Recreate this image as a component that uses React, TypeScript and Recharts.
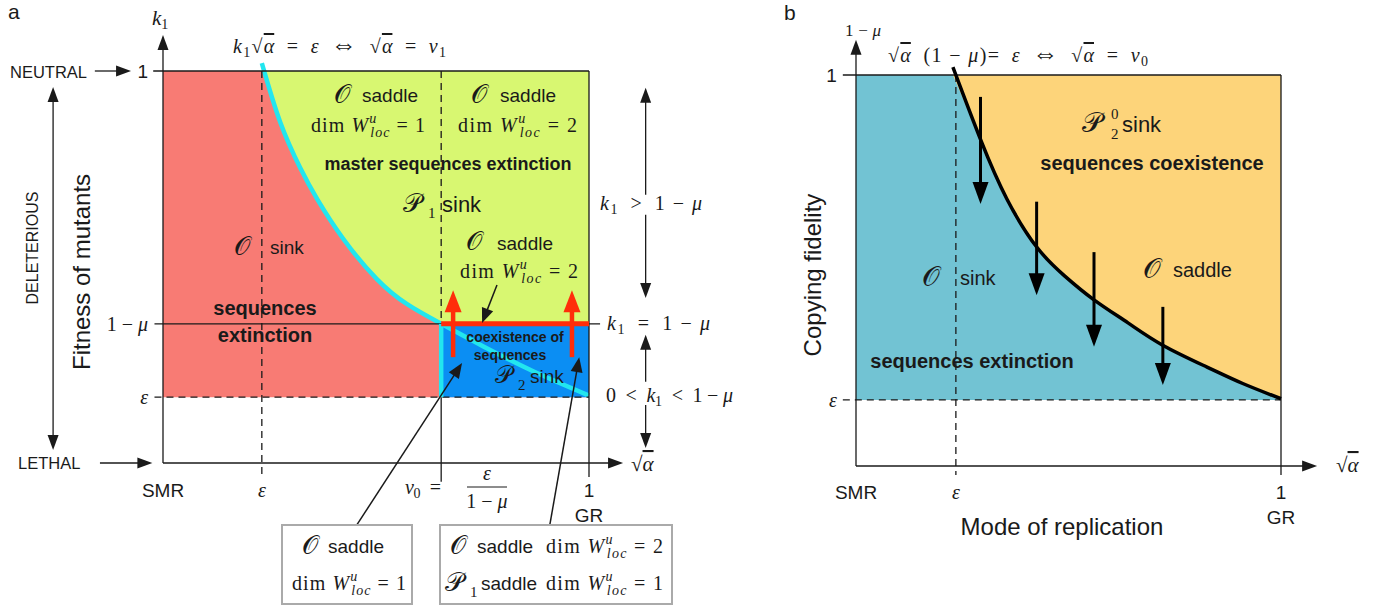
import React from "react";
import { ComposedChart, Area, Line, XAxis, YAxis, ReferenceLine, ReferenceDot } from "recharts";

// ---- panel a: fitness of mutants (k1) vs mode of replication (sqrt alpha)
const EPS_X = 0.232;
const EPS_Y = 0.168;
const ONE_MINUS_MU = 0.355;
const NU0 = 0.653;

// k1 * sqrt(alpha) = eps boundary
const sqrtAlphaA = [0.232, 0.275, 0.322, 0.362, 0.423, 0.502, 0.573, 0.653, 0.751, 0.869, 1.0];
const k1Boundary = [1.02, 0.87, 0.753, 0.673, 0.572, 0.469, 0.405, 0.355, 0.298, 0.234, 0.172];

const redArrowX = [0.681, 0.96];
const RED_ARROW_FROM = 0.27;
const RED_ARROW_TO = 0.441;

const xTicksA = [0, EPS_X, 1];
const xTickTextA = ["SMR", "ε", "1"];
const xTickSubA = ["", "", "GR"];
const yTicksA = [EPS_Y, ONE_MINUS_MU, 1];
const yTickTextA = ["ε", "1 − μ", "1"];

// ---- panel b: copying fidelity (1 - mu) vs sqrt alpha
const EPS_BX = 0.235;
const EPS_BY = 0.169;
const sqrtAlphaB = [0.228, 0.2934, 0.355, 0.4252, 0.49, 0.56, 0.64, 0.7216, 0.826, 0.91, 1.0];
const fidelityBoundary = [1.02, 0.834, 0.683, 0.56, 0.487, 0.425, 0.366, 0.309, 0.253, 0.211, 0.172];

const flowX = [0.293, 0.425, 0.56, 0.722];
const flowFrom = [0.944, 0.676, 0.547, 0.407];
const flowTo = [0.67, 0.437, 0.305, 0.207];

const xTicksB = [0, EPS_BX, 1];
const xTickTextB = ["SMR", "ε", "1"];
const xTickSubB = ["", "", "GR"];
const yTicksB = [EPS_BY, 1];
const yTickTextB = ["ε", "1"];

// ---- look
const SANS = "'Liberation Sans', Arial, Helvetica, sans-serif";
const SERIF = "'Liberation Serif', 'DejaVu Serif', 'Times New Roman', serif";
const CAL = "'DejaVu Serif', 'DejaVu Sans', serif";
const INK = "#1a1a1a";
const RED = "#f87b74";
const GREEN = "#d8f771";
const BLUE = "#0b8ef3";
const CYAN = "#22e6ef";
const HOT = "#ff2d0a";
const TEAL = "#72c3d3";
const ORANGE = "#fdd47a";

// plot domains, padded so that every annotation stays inside the plot area
const XD_A: [number, number] = [-0.38, 1.25];
const YD_A: [number, number] = [-0.15, 1.15];
const XD_B: [number, number] = [-0.36, 1.25];
const YD_B: [number, number] = [-0.15, 1.15];

function frame(x0: number, xs: number, y0: number, ys: number, xd: number[], yd: number[], w: number, h: number) {
  return {
    left: x0 + xd[0] * xs,
    right: w - (x0 + xd[1] * xs),
    top: y0 - yd[1] * ys,
    bottom: h - (y0 - yd[0] * ys),
  };
}

function arrowShape(color: string, w: number, hl: number, hw: number, both = false) {
  return (p: any) => {
    const { x1, y1, x2, y2 } = p;
    const len = Math.hypot(x2 - x1, y2 - y1) || 1;
    const ux = (x2 - x1) / len;
    const uy = (y2 - y1) / len;
    const head = (tx: number, ty: number, sx: number, sy: number) => {
      const bx = tx - sx * hl;
      const by = ty - sy * hl;
      return `${tx},${ty} ${bx - (sy * hw) / 2},${by + (sx * hw) / 2} ${bx + (sy * hw) / 2},${by - (sx * hw) / 2}`;
    };
    return (
      <g>
        <line
          x1={both ? x1 + ux * hl * 0.8 : x1}
          y1={both ? y1 + uy * hl * 0.8 : y1}
          x2={x2 - ux * hl * 0.8}
          y2={y2 - uy * hl * 0.8}
          stroke={color}
          strokeWidth={w}
        />
        <polygon points={head(x2, y2, ux, uy)} fill={color} />
        {both && <polygon points={head(x1, y1, -ux, -uy)} fill={color} />}
      </g>
    );
  };
}

const seg = (x1: number, y1: number, x2: number, y2: number) => [
  { x: x1, y: y1 },
  { x: x2, y: y2 },
];

const isMath = (s: string) => /[εμν]/.test(s);

function tickShape(text: string, sub: string, anchor: "middle" | "end", dy: number) {
  return (p: any) => (
    <g>
      <text
        x={p.cx}
        y={p.cy + dy}
        textAnchor={anchor}
        fontFamily={isMath(text) ? SERIF : SANS}
        fontStyle={text === "ε" ? "italic" : "normal"}
        fontSize={isMath(text) ? 20 : 19}
        fill={INK}
      >
        {text === "1 − μ" ? (
          <>
            1 − <tspan fontStyle="italic">μ</tspan>
          </>
        ) : (
          text
        )}
      </text>
      {sub && (
        <text x={p.cx} y={p.cy + dy + 25} textAnchor={anchor} fontFamily={SANS} fontSize={19} fill={INK}>
          {sub}
        </text>
      )}
    </g>
  );
}

const noAnim = { isAnimationActive: false, dot: false, activeDot: false } as const;

function PanelA() {
  const margin = frame(163, 426, 463, 392, XD_A, YD_A, 700, 614);
  const curve = sqrtAlphaA.map((x, i) => ({ x, k: k1Boundary[i] }));
  const red = [
    { x: 0, r: [EPS_Y, 1] },
    { x: 1, r: [EPS_Y, 1] },
  ];
  const greenCurve = sqrtAlphaA
    .map((x, i) => ({ x, r: [Math.min(k1Boundary[i], 1), 1] }))
    .filter((d) => d.x <= NU0);
  const greenFlat = [
    { x: NU0, r: [ONE_MINUS_MU, 1] },
    { x: 1, r: [ONE_MINUS_MU, 1] },
  ];
  const blue = [
    { x: NU0, r: [EPS_Y, ONE_MINUS_MU] },
    { x: 1, r: [EPS_Y, ONE_MINUS_MU] },
  ];
  const thin = { stroke: INK, strokeWidth: 1.3, ifOverflow: "visible" as const };
  const dash = { ...thin, strokeDasharray: "7 5" };
  const blk = arrowShape(INK, 1.3, 15, 11);
  return (
    <ComposedChart width={700} height={614} margin={margin}>
      <XAxis type="number" dataKey="x" domain={XD_A} hide allowDataOverflow />
      <YAxis type="number" domain={YD_A} hide allowDataOverflow />
      <Area data={red} dataKey="r" type="linear" stroke="none" fill={RED} fillOpacity={1} {...noAnim} />
      <Area data={greenCurve} dataKey="r" type="natural" stroke="none" fill={GREEN} fillOpacity={1} {...noAnim} />
      <Area data={greenFlat} dataKey="r" type="linear" stroke="none" fill={GREEN} fillOpacity={1} {...noAnim} />
      <Area data={blue} dataKey="r" type="linear" stroke="none" fill={BLUE} fillOpacity={1} {...noAnim} />
      <Line data={curve} dataKey="k" type="natural" stroke={CYAN} strokeWidth={4.5} {...noAnim} />

      <ReferenceLine segment={seg(-0.023, 1, 1, 1)} {...thin} />
      <ReferenceLine segment={seg(1, 1, 1, -0.036)} {...thin} />
      <ReferenceLine segment={seg(-0.02, ONE_MINUS_MU, 1.026, ONE_MINUS_MU)} {...thin} />
      <ReferenceLine segment={seg(-0.02, EPS_Y, 1, EPS_Y)} {...dash} />
      <ReferenceLine segment={seg(EPS_X, 1, EPS_X, -0.03)} {...dash} />
      <ReferenceLine segment={seg(NU0, 1, NU0, ONE_MINUS_MU)} {...dash} />
      <ReferenceLine segment={seg(NU0, EPS_Y, NU0, -0.048)} {...thin} />
      <ReferenceLine segment={seg(0, 0, 1.08, 0)} {...thin} shape={blk} />
      <ReferenceLine segment={seg(0, 0, 0, 1.092)} {...thin} shape={blk} />

      <ReferenceLine segment={seg(NU0, EPS_Y, NU0, ONE_MINUS_MU)} stroke={CYAN} strokeWidth={4.5} ifOverflow="visible" />
      <ReferenceLine segment={seg(NU0, ONE_MINUS_MU, 1, ONE_MINUS_MU)} stroke={HOT} strokeWidth={5} ifOverflow="visible" />
      {redArrowX.map((x) => (
        <ReferenceLine
          key={x}
          segment={seg(x, RED_ARROW_FROM, x, RED_ARROW_TO)}
          ifOverflow="visible"
          shape={arrowShape(HOT, 4.5, 22, 17)}
        />
      ))}

      {/* annotation arrows */}
      <ReferenceLine segment={seg(0.784, 0.454, 0.749, 0.357)} ifOverflow="visible" shape={arrowShape(INK, 1.5, 15, 12)} />
      <ReferenceLine segment={seg(0.455, -0.158, 0.702, 0.255)} ifOverflow="visible" shape={arrowShape(INK, 1.5, 15, 12)} />
      <ReferenceLine segment={seg(0.908, -0.158, 0.977, 0.27)} ifOverflow="visible" shape={arrowShape(INK, 1.5, 15, 12)} />
      <ReferenceLine segment={seg(-0.16, 1, -0.075, 1)} ifOverflow="visible" shape={blk} />
      <ReferenceLine segment={seg(-0.148, 0, -0.025, 0)} ifOverflow="visible" shape={blk} />
      <ReferenceLine segment={seg(-0.258, 0.959, -0.258, 0.033)} ifOverflow="visible" shape={arrowShape(INK, 1.3, 15, 11, true)} />
      <ReferenceLine segment={seg(1.133, 0.684, 1.133, 0.957)} ifOverflow="visible" shape={blk} />
      <ReferenceLine segment={seg(1.133, 0.633, 1.133, 0.421)} ifOverflow="visible" shape={blk} />
      <ReferenceLine segment={seg(1.133, 0.207, 1.133, 0.327)} ifOverflow="visible" shape={blk} />
      <ReferenceLine segment={seg(1.133, 0.148, 1.133, 0.038)} ifOverflow="visible" shape={blk} />

      {xTicksA.map((v, i) => (
        <ReferenceDot key={"x" + i} x={v} y={0} r={0} ifOverflow="visible" shape={tickShape(xTickTextA[i], xTickSubA[i], "middle", 34)} />
      ))}
      {yTicksA.map((v, i) => (
        <ReferenceDot key={"y" + i} x={-0.035} y={v} r={0} ifOverflow="visible" shape={tickShape(yTickTextA[i], "", "end", 7)} />
      ))}
    </ComposedChart>
  );
}

function PanelB() {
  const margin = frame(156, 425, 466, 391, XD_B, YD_B, 695, 614);
  const curve = sqrtAlphaB.map((x, i) => ({ x, f: fidelityBoundary[i] }));
  const teal = [
    { x: 0, r: [EPS_BY, 1] },
    { x: 1, r: [EPS_BY, 1] },
  ];
  const orange = sqrtAlphaB.map((x, i) => ({ x, r: [Math.min(fidelityBoundary[i], 1), 1] }));
  const thin = { stroke: INK, strokeWidth: 1.3, ifOverflow: "visible" as const };
  const dash = { ...thin, strokeDasharray: "7 5" };
  const blk = arrowShape(INK, 1.3, 15, 11);
  return (
    <ComposedChart width={695} height={614} margin={margin}>
      <XAxis type="number" dataKey="x" domain={XD_B} hide allowDataOverflow />
      <YAxis type="number" domain={YD_B} hide allowDataOverflow />
      <Area data={teal} dataKey="r" type="linear" stroke="none" fill={TEAL} fillOpacity={1} {...noAnim} />
      <Area data={orange} dataKey="r" type="natural" stroke="none" fill={ORANGE} fillOpacity={1} {...noAnim} />

      <ReferenceLine segment={seg(-0.031, 1, 1, 1)} {...thin} />
      <ReferenceLine segment={seg(1, 1, 1, -0.023)} {...thin} />
      <ReferenceLine segment={seg(-0.031, EPS_BY, 1, EPS_BY)} {...dash} />
      <ReferenceLine segment={seg(EPS_BX, 1, EPS_BX, -0.023)} {...dash} />
      <ReferenceLine segment={seg(0, 0, 1.085, 0)} {...thin} shape={blk} />
      <ReferenceLine segment={seg(0, 0, 0, 1.09)} {...thin} shape={blk} />

      <Line data={curve} dataKey="f" type="natural" stroke="#000" strokeWidth={3.5} {...noAnim} />
      {flowX.map((x, i) => (
        <ReferenceLine
          key={x}
          segment={seg(x, flowFrom[i], x, flowTo[i])}
          ifOverflow="visible"
          shape={arrowShape("#000", 3, 22, 16)}
        />
      ))}

      {xTicksB.map((v, i) => (
        <ReferenceDot key={"x" + i} x={v} y={0} r={0} ifOverflow="visible" shape={tickShape(xTickTextB[i], xTickSubB[i], "middle", 33)} />
      ))}
      {yTicksB.map((v, i) => (
        <ReferenceDot key={"y" + i} x={-0.045} y={v} r={0} ifOverflow="visible" shape={tickShape(yTickTextB[i], "", "end", 7)} />
      ))}
    </ComposedChart>
  );
}

function DimW({ x, y, n, size = 20, len = 114 }: { x: number; y: number; n: string; size?: number; len?: number }) {
  const s = size * 0.7;
  return (
    <text x={x} y={y} fontFamily={SERIF} fontSize={size} fill={INK} textLength={len} lengthAdjust="spacing">
      dim <tspan fontStyle="italic">W</tspan>
      <tspan fontStyle="italic" fontSize={s} dy={-9}>u</tspan>
      <tspan fontStyle="italic" fontSize={s} dx={-7} dy={14}>loc</tspan>
      <tspan dy={-5}>{" = " + n}</tspan>
    </text>
  );
}

function Cal({ x, y, ch, size = 26 }: { x: number; y: number; ch: string; size?: number }) {
  return (
    <text x={x} y={y} fontFamily={CAL} fontSize={size} fill={INK}>
      {ch}
    </text>
  );
}

function Sans({ x, y, size = 19, bold = false, anchor = "start", children }: any) {
  return (
    <text x={x} y={y} fontFamily={SANS} fontSize={size} fontWeight={bold ? 700 : 400} textAnchor={anchor} fill={INK}>
      {children}
    </text>
  );
}

const ov = { textDecoration: "overline" };
const SP = "\u2002";

function Overlay() {
  return (
    <svg width={1395} height={614} style={{ position: "absolute", left: 0, top: 0, pointerEvents: "none" }}>
      <Sans x={8} y={19} size={21}>a</Sans>
      <Sans x={784} y={20} size={21}>b</Sans>

      {/* ---- panel a frame texts */}
      <text x={152} y={25} fontFamily={SERIF} fontSize={21} fill={INK}>
        <tspan fontStyle="italic">k</tspan>
        <tspan fontSize={14} dy={4}>1</tspan>
      </text>
      <text x={233} y={53} fontFamily={SERIF} fontSize={20} fill={INK} textLength={213} lengthAdjust="spacing">
        <tspan fontStyle="italic">k</tspan>
        <tspan fontSize={14} dy={4}>1</tspan>
        <tspan dy={-4}>√</tspan>
        <tspan fontStyle="italic" style={ov}>α</tspan>
        <tspan>{SP + "=" + SP}</tspan>
        <tspan fontStyle="italic">ε</tspan>
        <tspan>{SP}</tspan>
        <tspan fontSize={26}>⇔</tspan>
        <tspan>{SP + "√"}</tspan>
        <tspan fontStyle="italic" style={ov}>α</tspan>
        <tspan>{SP + "=" + SP}</tspan>
        <tspan fontStyle="italic">ν</tspan>
        <tspan fontSize={14} dy={4}>1</tspan>
      </text>
      <Sans x={10} y={78} size={16.5}>NEUTRAL</Sans>
      <Sans x={18} y={469} size={16.5}>LETHAL</Sans>
      <text transform="translate(38,248) rotate(-90)" textAnchor="middle" fontFamily={SANS} fontSize={16} fill={INK}>
        DELETERIOUS
      </text>
      <text transform="translate(90,272) rotate(-90)" textAnchor="middle" fontFamily={SANS} fontSize={24} fill={INK}>
        Fitness of mutants
      </text>
      <text x={631} y={471} fontFamily={SERIF} fontSize={21} fill={INK}>
        √<tspan fontStyle="italic" style={ov}>α</tspan>
      </text>
      <text x={405} y={494} fontFamily={SERIF} fontSize={20} fill={INK} textLength={36} lengthAdjust="spacing">
        <tspan fontStyle="italic">ν</tspan>
        <tspan fontSize={14} dy={4}>0</tspan>
        <tspan dy={-4}>{SP + "="}</tspan>
      </text>
      <text x={487} y={480} textAnchor="middle" fontFamily={SERIF} fontStyle="italic" fontSize={20} fill={INK}>ε</text>
      <line x1={467} x2={507} y1={487} y2={487} stroke={INK} strokeWidth={1} />
      <text x={487} y={508} textAnchor="middle" fontFamily={SERIF} fontSize={20} fill={INK}>
        1 − <tspan fontStyle="italic">μ</tspan>
      </text>
      <text x={600} y={210} fontFamily={SERIF} fontSize={20} fill={INK} textLength={102} lengthAdjust="spacing">
        <tspan fontStyle="italic">k</tspan>
        <tspan fontSize={14} dy={4}>1</tspan>
        <tspan dy={-4}>{SP + ">" + SP + "1 − "}</tspan>
        <tspan fontStyle="italic">μ</tspan>
      </text>
      <text x={607} y={330} fontFamily={SERIF} fontSize={20} fill={INK} textLength={103} lengthAdjust="spacing">
        <tspan fontStyle="italic">k</tspan>
        <tspan fontSize={14} dy={4}>1</tspan>
        <tspan dy={-4}>{SP + "=" + SP + "1 − "}</tspan>
        <tspan fontStyle="italic">μ</tspan>
      </text>
      <text x={606} y={402} fontFamily={SERIF} fontSize={20} fill={INK} textLength={127} lengthAdjust="spacing">
        {"0" + SP + "<" + SP}
        <tspan fontStyle="italic">k</tspan>
        <tspan fontSize={14} dy={4}>1</tspan>
        <tspan dy={-4}>{SP + "<" + SP + "1 − "}</tspan>
        <tspan fontStyle="italic">μ</tspan>
      </text>

      {/* ---- panel a regions */}
      <Cal x={334} y={103} ch="𝒪" />
      <Sans x={362} y={102}>saddle</Sans>
      <DimW x={311} y={132} n="1" />
      <Cal x={471} y={103} ch="𝒪" />
      <Sans x={500} y={102}>saddle</Sans>
      <DimW x={458} y={132} n="2" len={119} />
      <Sans x={448} y={170} size={18} bold anchor="middle">master sequences extinction</Sans>
      <Cal x={403} y={212} ch="𝒫" />
      <text x={428} y={218} fontFamily={SERIF} fontSize={15} fill={INK}>1</text>
      <Sans x={442} y={212} size={22}>sink</Sans>
      <Cal x={466} y={250} ch="𝒪" />
      <Sans x={497} y={250}>saddle</Sans>
      <DimW x={460} y={278} n="2" len={118} />
      <Cal x={234} y={255} ch="𝒪" />
      <Sans x={270} y={254}>sink</Sans>
      <Sans x={265} y={315} size={20} bold anchor="middle">sequences</Sans>
      <Sans x={265} y={342} size={20} bold anchor="middle">extinction</Sans>
      <Sans x={515} y={342} size={14} bold anchor="middle">coexistence of</Sans>
      <Sans x={510} y={360} size={14} bold anchor="middle">sequences</Sans>
      <Cal x={495} y={383} ch="𝒫" size={24} />
      <text x={518} y={390} fontFamily={SERIF} fontSize={15} fill={INK}>2</text>
      <Sans x={530} y={383}>sink</Sans>

      {/* ---- legend boxes */}
      <rect x={282} y={525} width={130} height={79} fill="#fff" stroke="#aaa" strokeWidth={2} />
      <Cal x={302} y={554} ch="𝒪" />
      <Sans x={328} y={553}>saddle</Sans>
      <DimW x={292} y={590} n="1" />
      <rect x={440} y={525} width={232} height={79} fill="#fff" stroke="#aaa" strokeWidth={2} />
      <Cal x={450} y={554} ch="𝒪" />
      <Sans x={477} y={553}>saddle</Sans>
      <DimW x={546} y={553} n="2" len={117} />
      <Cal x={445} y={591} ch="𝒫" />
      <text x={470} y={597} fontFamily={SERIF} fontSize={15} fill={INK}>1</text>
      <Sans x={481} y={590}>saddle</Sans>
      <DimW x={546} y={590} n="1" len={117} />

      {/* ---- panel b frame texts */}
      <text x={845} y={36} fontFamily={SERIF} fontSize={17} fill={INK} textLength={36} lengthAdjust="spacing">
        1 − <tspan fontStyle="italic">μ</tspan>
      </text>
      <text x={888} y={62} fontFamily={SERIF} fontSize={20} fill={INK} textLength={260} lengthAdjust="spacing">
        √<tspan fontStyle="italic" style={ov}>α</tspan>
        <tspan>{SP + "(1 − "}</tspan>
        <tspan fontStyle="italic">μ</tspan>
        <tspan>{")" + "=" + SP}</tspan>
        <tspan fontStyle="italic">ε</tspan>
        <tspan>{SP}</tspan>
        <tspan fontSize={26}>⇔</tspan>
        <tspan>{SP + "√"}</tspan>
        <tspan fontStyle="italic" style={ov}>α</tspan>
        <tspan>{SP + "=" + SP}</tspan>
        <tspan fontStyle="italic">ν</tspan>
        <tspan fontSize={14} dy={4}>0</tspan>
      </text>
      <text x={1336} y={472} fontFamily={SERIF} fontSize={21} fill={INK}>
        √<tspan fontStyle="italic" style={ov}>α</tspan>
      </text>
      <Sans x={1062} y={535} size={24} anchor="middle">Mode of replication</Sans>
      <text transform="translate(821,275) rotate(-90)" textAnchor="middle" fontFamily={SANS} fontSize={24} fill={INK}>
        Copying fidelity
      </text>

      {/* ---- panel b regions */}
      <Cal x={1082} y={132} ch="𝒫" size={28} />
      <text x={1111} y={119} fontFamily={SERIF} fontSize={15} fill={INK}>0</text>
      <text x={1111} y={139} fontFamily={SERIF} fontSize={15} fill={INK}>2</text>
      <Sans x={1122} y={132} size={22}>sink</Sans>
      <Sans x={1152} y={170} size={20} bold anchor="middle">sequences coexistence</Sans>
      <Cal x={922} y={286} ch="𝒪" size={28} />
      <Sans x={960} y={285} size={20}>sink</Sans>
      <Cal x={1143} y={278} ch="𝒪" size={28} />
      <Sans x={1173} y={277} size={20}>saddle</Sans>
      <Sans x={972} y={368} size={20} bold anchor="middle">sequences extinction</Sans>
    </svg>
  );
}

export default function App() {
  return (
    <div style={{ position: "absolute", left: 0, top: 0, width: 1395, height: 614, background: "#fff", overflow: "hidden" }}>
      <div style={{ position: "absolute", left: 0, top: 0 }}>
        <PanelA />
      </div>
      <div style={{ position: "absolute", left: 700, top: 0 }}>
        <PanelB />
      </div>
      <Overlay />
    </div>
  );
}
